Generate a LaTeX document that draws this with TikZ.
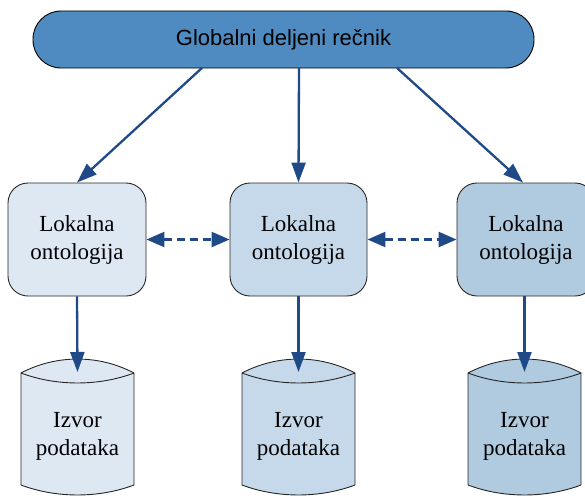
\documentclass[tikz,border=0pt]{standalone}
\usepackage{fontspec}
\setmainfont{Liberation Serif}
\newfontfamily\headfont{Liberation Sans}
\usetikzlibrary{arrows.meta,calc}

\definecolor{pillblue}{HTML}{4F8BC0}
\definecolor{tintA}{HTML}{DEE8F3}
\definecolor{tintB}{HTML}{C6D9EA}
\definecolor{tintC}{HTML}{B0CAE0}
\definecolor{linkblue}{HTML}{1F4A87}

\tikzset{
  pill/.style={draw=black, line width=0.9pt, fill=pillblue, rounded corners=28pt,
    minimum width=501pt, minimum height=57pt, inner sep=0pt,
    font=\headfont\fontsize{22}{26}\selectfont},
  ontobox/.style={draw=black!85, line width=0.9pt, rounded corners=20pt,
    minimum width=138pt, minimum height=113pt, inner sep=0pt, align=center,
    font=\fontsize{23}{28}\selectfont},
  dblabel/.style={inner sep=0pt, align=center, font=\fontsize{23}{28}\selectfont},
  dbshape/.style={draw=black!85, line width=0.9pt},
  link/.style={draw=linkblue, line width=2.3pt,
    -{Triangle[length=20pt,width=14pt]}},
  peer/.style={draw=linkblue, line width=2.5pt, dash pattern=on 8pt off 5pt,
    {Triangle[length=18pt,width=15pt]}-{Triangle[length=18pt,width=15pt]}}
}

% storage cylinder: centre x, fill colour
\newcommand\storagecyl[2]{%
  \fill[#2] (#1-56.5,373) .. controls (#1-21.2,354.4) and (#1+21.2,354.4) .. (#1+56.5,373)
    -- (#1+56.5,485) .. controls (#1+21.2,498.3) and (#1-21.2,498.3) .. (#1-56.5,485) -- cycle;
  \draw[dbshape] (#1-56.5,485) -- (#1-56.5,373)
    .. controls (#1-21.2,354.4) and (#1+21.2,354.4) .. (#1+56.5,373) -- (#1+56.5,485);
  \draw[dbshape] (#1-56.5,485) .. controls (#1-21.2,498.3) and (#1+21.2,498.3) .. (#1+56.5,485);
  \draw[dbshape] (#1-56.5,373) .. controls (#1-21.2,386.3) and (#1+21.2,386.3) .. (#1+56.5,373);
}

\begin{document}
\begin{tikzpicture}[x=1pt,y=-1pt]
  \useasboundingbox (0,0) rectangle (585,495);
  \clip (0,0) rectangle (585,495);

  % shared vocabulary
  \node[pill] (g) at (283.5,39.5) {Globalni deljeni rečnik};

  % local ontologies
  \node[ontobox, fill=tintA] (b1) at (77,239.5) {Lokalna\\ontologija};
  \node[ontobox, fill=tintB, minimum width=137pt] (b2) at (298.5,239.5) {Lokalna\\ontologija};
  \node[ontobox, fill=tintC] (b3) at (526,239.5) {Lokalna\\ontologija};

  % data sources
  \storagecyl{77.5}{tintA}
  \storagecyl{298.5}{tintB}
  \storagecyl{524.5}{tintC}
  \node[dblabel] (s1) at (77.5,436) {Izvor\\podataka};
  \node[dblabel] (s2) at (298.5,436) {Izvor\\podataka};
  \node[dblabel] (s3) at (524.5,436) {Izvor\\podataka};
  \coordinate (s1top) at (77.5,372);
  \coordinate (s2top) at (298.5,372);
  \coordinate (s3top) at (524.5,372);

  % vocabulary to ontologies
  \draw[link] ($(g.south)+(-81.5,-0.5)$) -- (b1.north);
  \draw[link] ($(g.south)+(15.5,-0.5)$) -- (b2.north);
  \draw[link] ($(g.south)+(113.5,-0.5)$) -- ($(b3.north)+(-3,0)$);

  % ontologies to sources
  \draw[link] (b1.south) -- (s1top);
  \draw[link] (b2.south) -- (s2top);
  \draw[link] (b3.south -| s3top) -- (s3top);

  % mappings between ontologies
  \draw[peer] (b1.east) -- (b2.west);
  \draw[peer] (b2.east) -- (b3.west);
\end{tikzpicture}
\end{document}
